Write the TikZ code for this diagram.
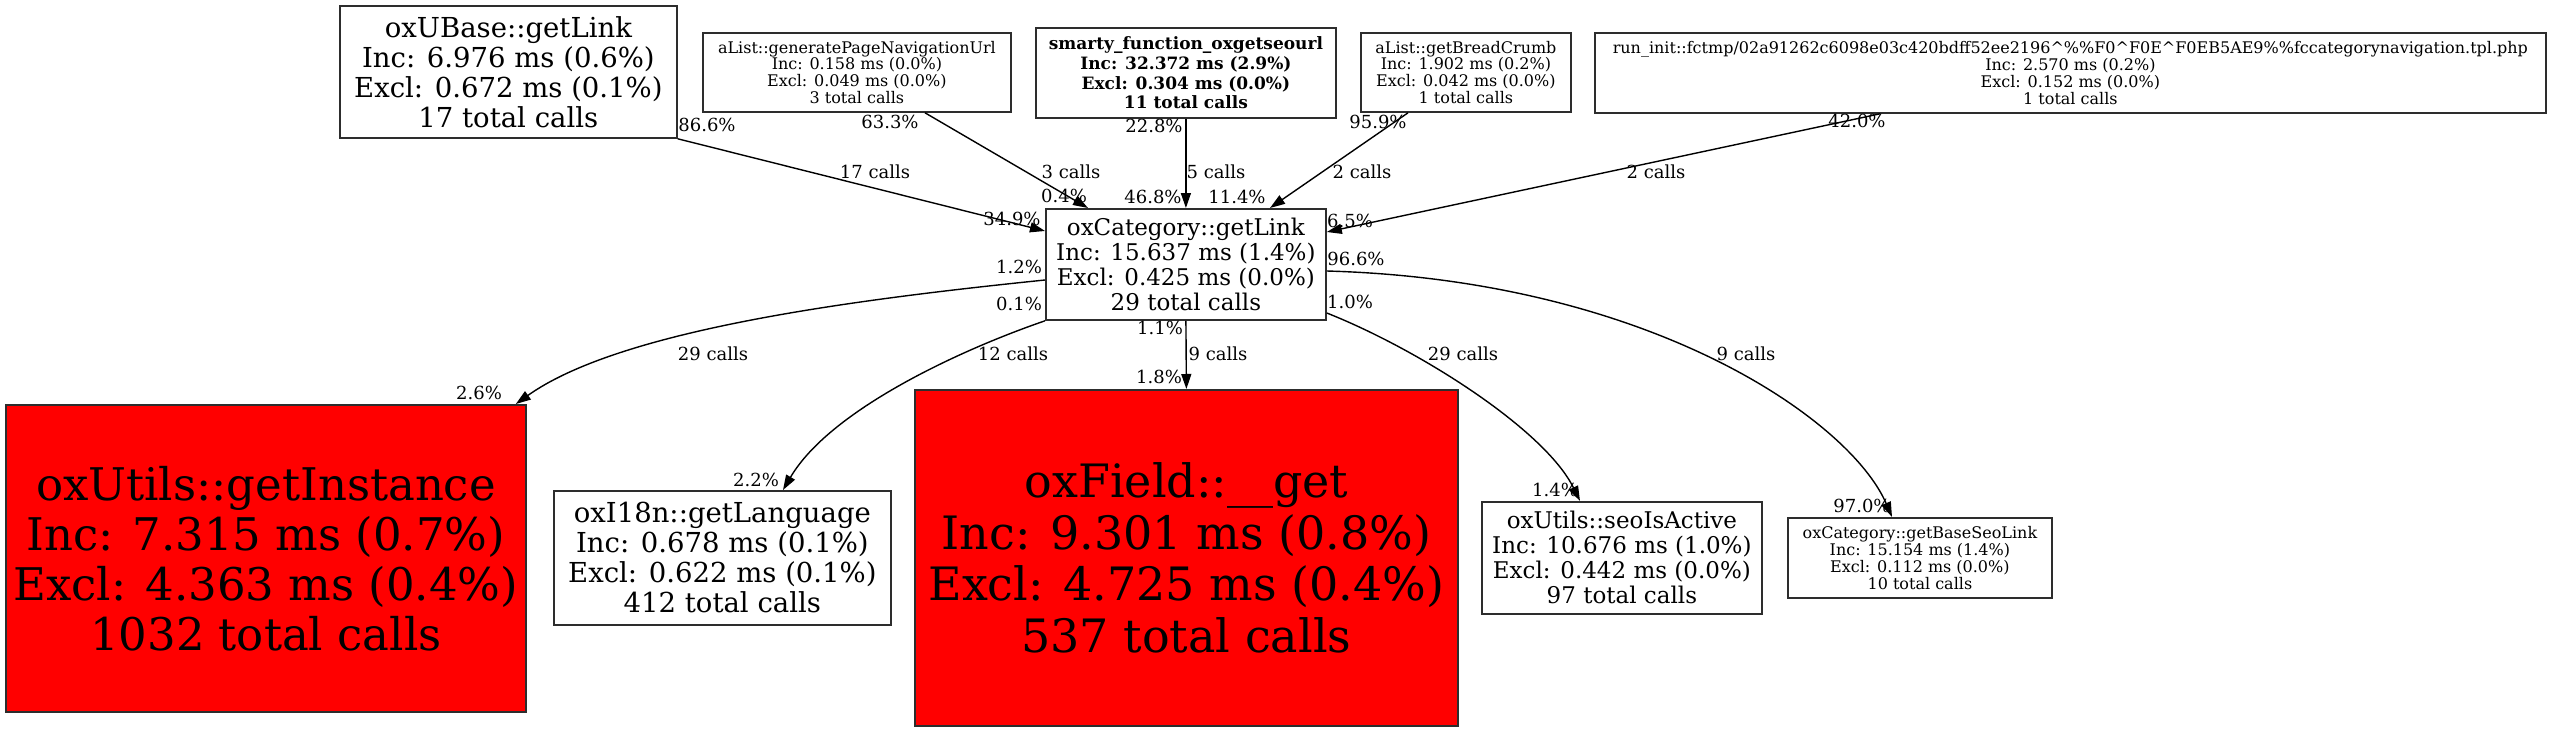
\documentclass[tikz,border=0pt]{standalone}
\usepackage{fontspec}
\setmainfont{DejaVu Serif}
\usetikzlibrary{arrows.meta}
\definecolor{boxline}{RGB}{45,45,45}
\definecolor{hotred}{RGB}{255,0,0}
\newcommand\fsz[2]{\fontsize{#1pt}{#2pt}\selectfont}
\tikzset{
  gvbox/.style={draw=boxline, line width=1.8pt, rectangle, inner sep=0pt, align=center, anchor=north west},
  hotbox/.style={gvbox, fill=hotred},
  conn/.style={draw=black, line width=1.4pt, -{Triangle[length=15pt,width=10pt]}},
  lbl/.style={font=\fsz{18}{20}, inner sep=0pt},
}
\begin{document}
\begin{tikzpicture}[x=1pt, y=-1pt]
\useasboundingbox (0,0) rectangle (2549,731);

% nodes
\node[gvbox, minimum width=337pt, minimum height=132pt, font={\fsz{27.5}{30}}] (ubase) at (339,5)
  {oxUBase::getLink\\Inc: 6.976 ms (0.6\%)\\Excl: 0.672 ms (0.1\%)\\17 total calls};
\node[gvbox, minimum width=308pt, minimum height=79pt, font={\fsz{16}{16.8}}] (gen) at (702,32)
  {aList::generatePageNavigationUrl\\Inc: 0.158 ms (0.0\%)\\Excl: 0.049 ms (0.0\%)\\3 total calls};
\node[gvbox, minimum width=300pt, minimum height=90pt, font={\fsz{17}{19.7}\bfseries}] (smarty) at (1035,27)
  {smarty\_function\_oxgetseourl\\Inc: 32.372 ms (2.9\%)\\Excl: 0.304 ms (0.0\%)\\11 total calls};
\node[gvbox, minimum width=210pt, minimum height=79pt, font={\fsz{16}{16.8}}] (crumb) at (1360,32)
  {aList::getBreadCrumb\\Inc: 1.902 ms (0.2\%)\\Excl: 0.042 ms (0.0\%)\\1 total calls};
\node[gvbox, minimum width=951pt, minimum height=80pt, font={\fsz{16}{17}}] (run) at (1594,32)
  {run\_init::fctmp/02a91262c6098e03c420bdff52ee2196\textasciicircum\%\%F0\textasciicircum F0E\textasciicircum F0EB5AE9\%\%fccategorynavigation.tpl.php\\Inc: 2.570 ms (0.2\%)\\Excl: 0.152 ms (0.0\%)\\1 total calls};
\node[gvbox, minimum width=280pt, minimum height=111pt, font={\fsz{23}{25}}] (cat) at (1045,208)
  {oxCategory::getLink\\Inc: 15.637 ms (1.4\%)\\Excl: 0.425 ms (0.0\%)\\29 total calls};
\node[hotbox, minimum width=520pt, minimum height=307pt, font={\fsz{45}{50}}] (inst) at (5,404)
  {oxUtils::getInstance\\Inc: 7.315 ms (0.7\%)\\Excl: 4.363 ms (0.4\%)\\1032 total calls};
\node[gvbox, minimum width=337pt, minimum height=134pt, font={\fsz{27.5}{30}}] (lang) at (553,490)
  {oxI18n::getLanguage\\Inc: 0.678 ms (0.1\%)\\Excl: 0.622 ms (0.1\%)\\412 total calls};
\node[hotbox, minimum width=543pt, minimum height=336pt, font={\fsz{46}{51.7}}] (field) at (914,389)
  {oxField::\_\_get\\Inc: 9.301 ms (0.8\%)\\Excl: 4.725 ms (0.4\%)\\537 total calls};
\node[gvbox, minimum width=280pt, minimum height=112pt, font={\fsz{23}{25}}] (seo) at (1481,501)
  {oxUtils::seoIsActive\\Inc: 10.676 ms (1.0\%)\\Excl: 0.442 ms (0.0\%)\\97 total calls};
\node[gvbox, minimum width=264pt, minimum height=80pt, font={\fsz{16}{17}}] (base) at (1787,517)
  {oxCategory::getBaseSeoLink\\Inc: 15.154 ms (1.4\%)\\Excl: 0.112 ms (0.0\%)\\10 total calls};

% incoming connectors
\draw[conn] (ubase.south east) -- ([yshift=-23pt]cat.north west);
\draw[conn] ([xshift=223pt]gen.south west) -- ([xshift=43pt]cat.north west);
\draw[conn] (smarty.south) -- (cat.north);
\draw[conn] ([xshift=48pt]crumb.south west) -- ([xshift=225pt]cat.north west);
\draw[conn] ([xshift=286pt]run.south west) -- ([yshift=-24pt]cat.north east);

% outgoing connectors
\draw[conn] ([yshift=-72pt]cat.north west) .. controls (850,300) and (620,330) .. ([xshift=-11pt]inst.north east);
\draw[conn] (cat.south west) .. controls (960,350) and (830,410) .. ([xshift=230pt]lang.north west);
\draw[conn] (cat.south) -- (field.north);
\draw[conn] ([yshift=-105pt]cat.north east) .. controls (1420,350) and (1545,430) .. ([xshift=99pt]seo.north west);
\draw[conn] ([yshift=-63pt]cat.north east) .. controls (1650,280) and (1850,420) .. ([xshift=105pt]base.north west);

% labels
\node[lbl] (t1) at (707,125) {86.6\%};
\node[lbl] (c1) at (875,172) {17 calls};
\node[lbl] (h1) at (1012,219) {34.9\%};
\node[lbl] (t2) at (890,122) {63.3\%};
\node[lbl] (c2) at (1071,172) {3 calls};
\node[lbl] (h2) at (1064,196) {0.4\%};
\node[lbl] (t3) at (1154,126) {22.8\%};
\node[lbl] (c3) at (1216,172) {5 calls};
\node[lbl] (h3) at (1153,197) {46.8\%};
\node[lbl] (t4) at (1378,122) {95.9\%};
\node[lbl] (c4) at (1362,172) {2 calls};
\node[lbl] (h4) at (1237,197) {11.4\%};
\node[lbl] (t5) at (1857,121) {42.0\%};
\node[lbl] (c5) at (1656,172) {2 calls};
\node[lbl] (h5) at (1350,221) {6.5\%};
\node[lbl] (t6) at (1019,267) {1.2\%};
\node[lbl] (c6) at (713,354) {29 calls};
\node[lbl] (h6) at (479,393) {2.6\%};
\node[lbl] (t7) at (1019,304) {0.1\%};
\node[lbl] (c7) at (1013,354) {12 calls};
\node[lbl] (h7) at (756,480) {2.2\%};
\node[lbl] (t8) at (1160,328) {1.1\%};
\node[lbl] (c8) at (1218,354) {9 calls};
\node[lbl] (h8) at (1159,377) {1.8\%};
\node[lbl] (t9) at (1350,302) {1.0\%};
\node[lbl] (c9) at (1463,354) {29 calls};
\node[lbl] (h9) at (1555,490) {1.4\%};
\node[lbl] (t10) at (1356,259) {96.6\%};
\node[lbl] (c10) at (1746,354) {9 calls};
\node[lbl] (h10) at (1862,506) {97.0\%};
\end{tikzpicture}
\end{document}
